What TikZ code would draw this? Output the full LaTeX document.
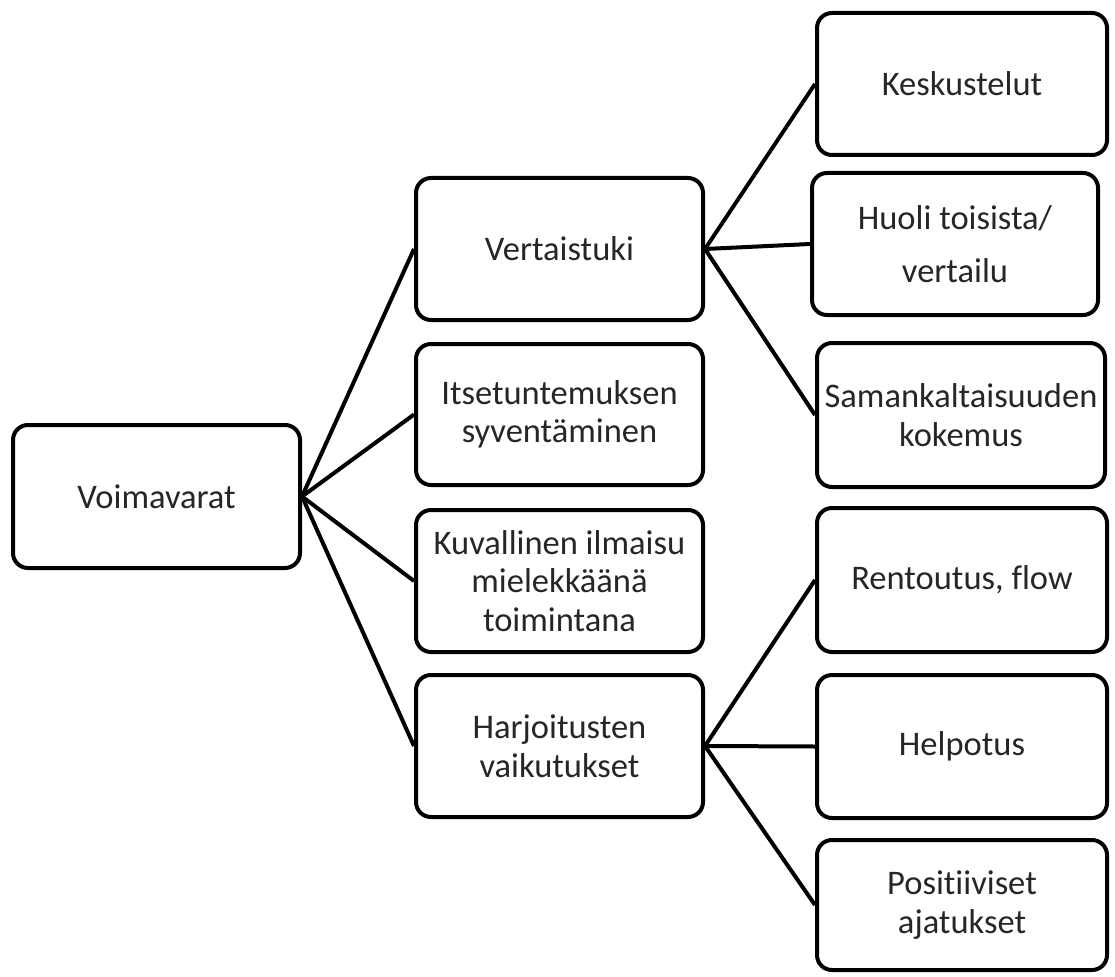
\documentclass[tikz,border=0pt]{standalone}
\usepackage{fontspec}
\setmainfont{Carlito}[Ligatures={NoCommon}]
\begin{document}
\begin{tikzpicture}[x=1pt,y=-1pt,
  box/.style={draw=black, line width=4pt, rounded corners=15pt, align=center,
    inner sep=0pt, font=\fontsize{34.5}{38.5}\selectfont, text=black!85},
  conn/.style={draw=black, line width=4pt}]
\useasboundingbox (0,0) rectangle (1115,976);
\node[box, minimum width=287pt, minimum height=143pt] (v) at (156.5,496.5) {Voimavarat};
\node[box, minimum width=287pt, minimum height=142pt] (vert) at (559.5,249) {Vertaistuki};
\node[box, minimum width=287pt, minimum height=141pt] (itse) at (559.5,414.5) {Itsetuntemuksen\\syventäminen};
\node[box, minimum width=287pt, minimum height=142pt] (kuv) at (559.5,581) {Kuvallinen ilmaisu\\mielekkäänä\\toimintana};
\node[box, minimum width=287pt, minimum height=142pt] (harj) at (559.5,746) {Harjoitusten\\vaikutukset};
\node[box, minimum width=290pt, minimum height=142pt] (kesk) at (962,84) {Keskustelut};
\node[box, minimum width=286pt, minimum height=142pt, font=\fontsize{34.5}{53}\selectfont] (huoli) at (955,244) {Huoli toisista/\\vertailu};
\node[box, minimum width=288pt, minimum height=144pt] (sam) at (961,415) {Samankaltaisuuden\\kokemus};
\node[box, minimum width=290pt, minimum height=144pt] (rent) at (962,580) {Rentoutus, flow};
\node[box, minimum width=290pt, minimum height=143pt] (help) at (962,746.5) {Helpotus};
\node[box, minimum width=290pt, minimum height=130pt] (pos) at (962,905) {Positiiviset\\ajatukset};
\foreach \t in {vert,itse,kuv,harj} \draw[conn] (v.east) -- (\t.west);
\foreach \t in {kesk,huoli,sam} \draw[conn] (vert.east) -- (\t.west);
\foreach \t in {rent,help,pos} \draw[conn] (harj.east) -- (\t.west);
\end{tikzpicture}
\end{document}
